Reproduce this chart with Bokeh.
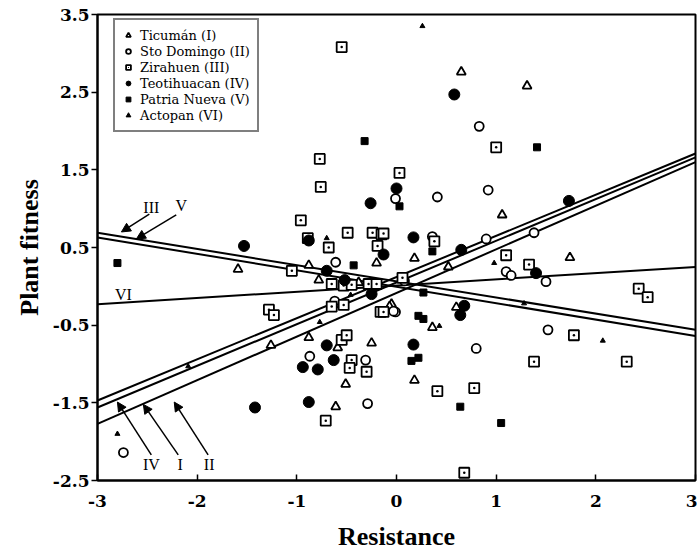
from bokeh.plotting import figure
from bokeh.models import (Range1d, FixedTicker, Legend, LegendItem, Arrow, NormalHead, Label)
from bokeh.embed import file_html
from bokeh.resources import INLINE

# ---------------- data ----------------
ticuman_x = [0.65, 1.31, 1.06, 0.18, 0.52, 1.74, -0.05, 0.36, 0.60, 0.18, -1.59, -0.88, -0.78,
             -0.38, -0.20, -0.07, -1.26, -0.88, -0.59, -0.25, -0.51, -0.61]
ticuman_y = [2.76, 2.58, 0.92, 0.36, 0.25, 0.37, -0.23, -0.53, -0.27, -1.21, 0.22, 0.27, 0.08,
             0.05, 0.30, -0.26, -0.76, -0.66, -0.79, -0.73, -1.26, -1.55]

stodomingo_x = [0.83, 0.92, 0.41, -0.01, 0.36, 0.90, 1.38, 1.10, 1.15, 1.50, -0.01, 1.52, 0.80,
                -0.61, -0.62, -0.87, -0.31, -0.29, -2.74, -0.03, 0.08]
stodomingo_y = [2.06, 1.24, 1.15, 1.13, 0.64, 0.61, 0.69, 0.19, 0.14, 0.06, -0.33, -0.56, -0.80,
                0.31, -0.19, -0.90, -0.95, -1.51, -2.14, -0.32, 0.07]

zirahuen_x = [-0.55, 1.00, 0.03, -0.77, -0.76, -0.96, -0.49, -0.24, -0.15, -0.19, -0.89, -0.68,
              -1.05, -0.65, -0.53, -0.45, -0.28, -0.20, -0.65, -0.53, -1.28, -1.23, -0.16,
              -0.55, -0.50, -0.45, -0.47, -0.30, -0.71, 0.38, 1.10, 1.33, 2.43, 2.52, -0.13,
              1.78, 1.38, 2.31, 0.41, 0.78, 0.68, 0.06, -0.13]
zirahuen_y = [3.08, 1.79, 1.46, 1.64, 1.28, 0.85, 0.69, 0.69, 0.67, 0.52, 0.62, 0.50,
              0.20, 0.03, 0.01, 0.02, 0.03, 0.03, -0.26, -0.24, -0.30, -0.37, -0.33,
              -0.69, -0.63, -0.95, -1.05, -1.10, -1.73, 0.58, 0.40, 0.28, -0.03, -0.14, -0.33,
              -0.63, -0.97, -0.97, -1.35, -1.31, -2.40, 0.11, 0.68]

teoti_x = [0.58, 0.00, 1.73, -0.26, 0.17, 0.65, 1.40, -1.53, -0.70, -0.52, -0.88, -0.13, -0.25,
           0.17, 0.64, 0.68, -0.70, -0.63, -0.94, -0.79, -1.42, -0.88]
teoti_y = [2.47, 1.26, 1.10, 1.07, 0.63, 0.47, 0.17, 0.52, 0.20, 0.08, 0.59, 0.41, -0.10,
           -0.75, -0.37, -0.25, -0.76, -0.95, -1.04, -1.07, -1.56, -1.49]

patria_x = [1.41, -0.32, 0.03, 0.36, -2.80, -0.43, 0.27, 0.22, 0.27, 0.15, 0.22, 0.64, 1.05]
patria_y = [1.79, 1.87, 1.03, 0.45, 0.30, 0.27, -0.08, -0.38, -0.42, -0.96, -0.92, -1.55, -1.76]

actopan_x = [0.26, 0.98, 1.28, 2.07, -0.77, -0.70, -0.46, -2.09, -2.80, 0.43]
actopan_y = [3.35, 0.30, -0.22, -0.70, -0.46, 0.62, -0.11, -1.03, -1.90, -0.51]

# regression lines: y at x=-3 and at x=3
line_names = ["IV", "I", "II", "III", "V", "VI"]
line_y_left = [-1.47, -1.56, -1.77, 0.69, 0.63, -0.23]
line_y_right = [1.71, 1.66, 1.60, -0.56, -0.64, 0.25]

x_ticks = [-3, -2, -1, 0, 1, 2, 3]
y_ticks = [-2.5, -1.5, -0.5, 0.5, 1.5, 2.5, 3.5]

# line labels and arrows
lab_text = ["III", "V", "VI", "IV", "I", "II"]
lab_x = [-2.46, -2.16, -2.74, -2.46, -2.17, -1.88]
lab_y = [1.02, 1.04, -0.11, -2.30, -2.30, -2.30]
arr_x0 = [-2.48, -2.21, -2.46, -2.19, -1.89]
arr_y0 = [0.93, 0.92, -2.17, -2.17, -2.17]
arr_x1 = [-2.76, -2.61, -2.80, -2.54, -2.23]
arr_y1 = [0.70, 0.61, -1.49, -1.52, -1.49]

# ---------------- figure ----------------
SERIF = "Liberation Serif"
WIDE = "DejaVu Serif"
p = figure(width=697, height=553, output_backend="svg", toolbar_location=None,
           x_range=Range1d(-3, 3), y_range=Range1d(-2.5, 3.5),
           min_border_left=97, min_border_right=2, min_border_top=14, min_border_bottom=69)
p.grid.visible = False
p.background_fill_color = "white"
p.border_fill_color = "white"
p.outline_line_color = "black"
p.outline_line_width = 2

for ax in (p.xaxis[0], p.yaxis[0]):
    ax.major_label_text_font = WIDE
    ax.major_label_text_font_style = "bold"
    ax.major_label_text_font_size = "17px"
    ax.major_label_text_color = "black"
    ax.axis_label_text_font = SERIF
    ax.axis_label_text_font_style = "bold"
    ax.axis_label_text_font_size = "26px"
    ax.axis_label_text_color = "black"
    ax.axis_line_color = "black"
    ax.axis_line_width = 2
    ax.major_tick_line_color = "black"
    ax.major_tick_line_width = 1.5
    ax.minor_tick_line_color = None

p.xaxis.ticker = FixedTicker(ticks=x_ticks)
p.yaxis.ticker = FixedTicker(ticks=y_ticks)
p.xaxis.major_label_overrides = {t: str(t) for t in x_ticks}
p.yaxis.major_label_overrides = {t: str(t) for t in y_ticks}
p.xaxis.major_tick_in = 6
p.xaxis.major_tick_out = 0
p.yaxis.major_tick_in = 0
p.yaxis.major_tick_out = 6
p.xaxis.major_label_standoff = 14
p.yaxis.major_label_standoff = 2
p.xaxis.axis_label = "Resistance"
p.yaxis.axis_label = "Plant fitness"
p.xaxis.axis_label_standoff = 12
p.yaxis.axis_label_standoff = 6

# regression lines
for yl, yr in zip(line_y_left, line_y_right):
    p.line([-3, 3], [yl, yr], line_color="black", line_width=2)

# points
r1 = p.scatter(ticuman_x, ticuman_y, marker="triangle", size=9, line_color="black",
               line_width=1.8, fill_color="white")
r2 = p.scatter(stodomingo_x, stodomingo_y, marker="circle", size=9, line_color="black",
               line_width=1.8, fill_color="white")
r3 = p.scatter(zirahuen_x, zirahuen_y, marker="square_dot", size=10, line_color="black",
               line_width=1.8, fill_color="white")
r4 = p.scatter(teoti_x, teoti_y, marker="circle", size=11, line_color="black",
               fill_color="black")
r5 = p.scatter(patria_x, patria_y, marker="square", size=7, line_color="black",
               fill_color="black")
r6 = p.scatter(actopan_x, actopan_y, marker="triangle", size=5, line_color="black",
               fill_color="black")

legend = Legend(items=[
    LegendItem(label="Ticumán (I)", renderers=[r1]),
    LegendItem(label="Sto Domingo (II)", renderers=[r2]),
    LegendItem(label="Zirahuen (III)", renderers=[r3]),
    LegendItem(label="Teotihuacan (IV)", renderers=[r4]),
    LegendItem(label="Patria Nueva (V)", renderers=[r5]),
    LegendItem(label="Actopan (VI)", renderers=[r6]),
], location=(16, 348), orientation="vertical")
legend.label_text_font = WIDE
legend.label_text_font_size = "13px"
legend.label_text_color = "black"
legend.label_height = 16
legend.glyph_height = 16
legend.glyph_width = 12
legend.label_standoff = 6
legend.spacing = 0
legend.padding = 7
legend.margin = 0
legend.border_line_color = "black"
legend.border_line_width = 2
legend.background_fill_alpha = 1
p.add_layout(legend, "center")

for t, lx, ly in zip(lab_text, lab_x, lab_y):
    p.add_layout(Label(x=lx, y=ly, text=t, text_font=SERIF, text_font_size="16px",
                       text_align="center", text_baseline="middle", text_color="black"))

for xs, ys, xe, ye in zip(arr_x0, arr_y0, arr_x1, arr_y1):
    p.add_layout(Arrow(x_start=xs, y_start=ys, x_end=xe, y_end=ye, line_width=1.5,
                       line_color="black",
                       end=NormalHead(size=9, fill_color="black", line_color="black")))

open("out.html", "w").write(file_html(p, INLINE))
